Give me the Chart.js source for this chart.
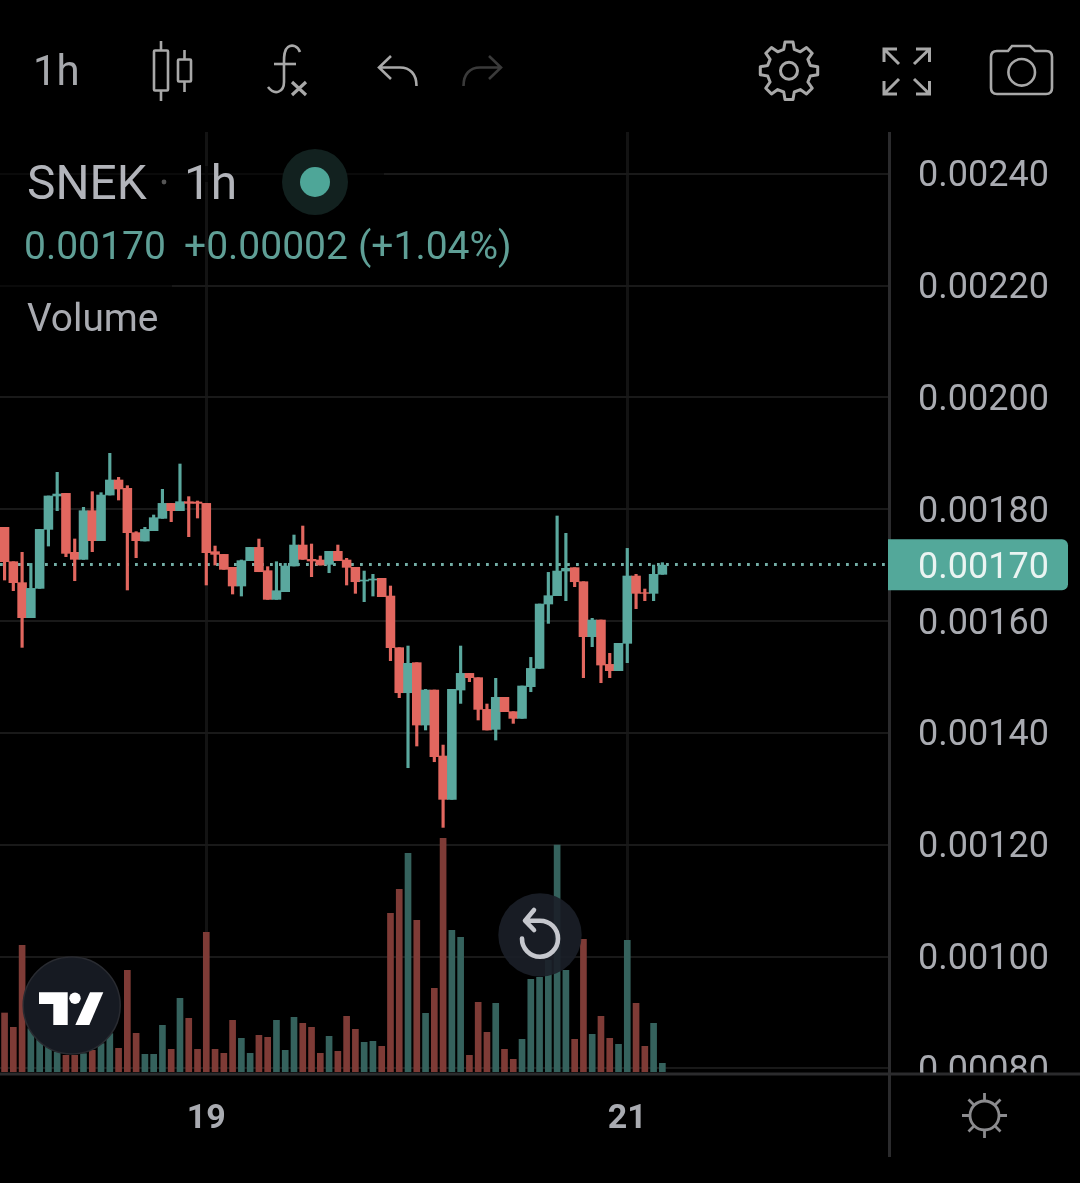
<!DOCTYPE html>
<html>
<head>
<meta charset="utf-8">
<style>
html,body{margin:0;padding:0;background:#000;width:1080px;height:1183px;overflow:hidden}
#c{position:absolute;left:0;top:0;width:1080px;height:1183px}
#o{position:absolute;left:0;top:0;pointer-events:none}
text{font-family:Roboto,sans-serif}
</style>
<script src="https://cdn.jsdelivr.net/npm/chart.js@4"></script>
</head>
<body>
<canvas id="c" width="1080" height="1183"></canvas>
<svg id="o" width="1080" height="1183" viewBox="0 0 1080 1183" xmlns="http://www.w3.org/2000/svg">
  <!-- toolbar -->
  <text x="33" y="85" font-size="42" fill="#a6a8ac">1h</text>
  <g fill="none" stroke="#a8a8a8" stroke-width="2.6">
    <rect x="154" y="50.5" width="14" height="40" rx="1"/>
    <path d="M161 41v9.5M161 90.5V101"/>
    <rect x="178" y="59.5" width="13" height="22" rx="1"/>
    <path d="M184.5 50v9.5M184.5 81.5V92"/>
    <path d="M300 52C298 46 292 44 288 47C284 50 284 56 284 62V82C284 92 275 96 268 87"/>
    <path d="M274 64H296"/>
    <path d="M292 82L306 95M306 82L292 95" stroke-width="3.2"/>
    <path d="M391 56L379 67.5L391 79M379 67.5H400C410 67.5 416.5 74 416.5 86"/>
    <path d="M489 56L501 67.5L489 79M501 67.5H480C470 67.5 463.5 74 463.5 86" stroke="#3a3a3a"/>
    <path id="gear" stroke-width="3" stroke-linejoin="round"/>
    <circle cx="789" cy="70.7" r="8.5" stroke-width="3"/>
    <g stroke-width="3">
      <path d="M897 49H884V62M884 49L899 64"/>
      <path d="M916 49H929.5V62M929.5 49L914 64"/>
      <path d="M884 81V94H897M884 94L899 79"/>
      <path d="M929.5 81V94H916M929.5 94L914 79"/>
    </g>
    <path d="M997 51H1008L1012 46H1030L1035 51H1046Q1052 51 1052 57V88Q1052 94 1046 94H997Q991 94 991 88V57Q991 51 997 51Z"/>
    <circle cx="1021.7" cy="72.3" r="13.3"/>
  </g>
  <!-- legend -->
  <rect x="0" y="166" width="384" height="16" fill="#000" fill-opacity="0.6"/>
  <rect x="0" y="278" width="172" height="16" fill="#000" fill-opacity="0.6"/>
  <text x="27" y="198.5" font-size="47.8" fill="#b2b4ba">SNEK</text>
  <circle cx="164" cy="182" r="2.4" fill="#555"/>
  <text x="184" y="198.5" font-size="47.8" fill="#b2b4ba">1h</text>
  <circle cx="315" cy="182" r="33" fill="#12211f"/>
  <circle cx="315" cy="182" r="15" fill="#4ea698"/>
  <text x="24" y="259" font-size="39" fill="#5f9f96">0.00170</text>
  <text x="184" y="259" font-size="39" fill="#5f9f96">+0.00002</text>
  <text x="358" y="259" font-size="39" fill="#5f9f96">(+1.04%)</text>
  <text x="27" y="331" font-size="38.8" fill="#a9abb1">Volume</text>
  <!-- tradingview badge -->
  <circle cx="71.7" cy="1005.5" r="48.5" fill="#161a22" stroke="#292b31" stroke-width="1.5"/>
  <path d="M39 992.3H67.7V1025H53.3V1004H39Z" fill="#fff"/>
  <circle cx="75" cy="998.3" r="5.7" fill="#fff"/>
  <path d="M90 992.3H103.3L89.3 1025H75.3Z" fill="#fff"/>
  <!-- reset button -->
  <circle cx="540" cy="935" r="41.7" fill="#1b1f28" fill-opacity="0.9"/>
  <path d="M534 910L525 920.7L534 930M526 920.7H540A18 18 0 1 1 522 938.5" fill="none" stroke="#c5c7cd" stroke-width="4.6" stroke-linecap="round" stroke-linejoin="round"/>
  <!-- theme icon -->
  <g fill="none" stroke="#8b8b8e" stroke-width="2.8">
    <circle cx="984.5" cy="1115.5" r="14.5"/>
    <path d="M984.5 1093V1101M984.5 1130V1138M962 1115.5H970M999 1115.5H1007M968.5 1099.5L974 1105M995 1126L1000.5 1131.5M1000.5 1099.5L995 1105M974 1126L968.5 1131.5"/>
  </g>
</svg>
<script>
const categories = Array.from({length:76},(_,i)=>i);
const opens = [
0.0017676,0.0017062,0.0016687,0.0016061,0.0016585,0.0017640,0.0018237,0.0018284,0.0017229,0.0017104,
0.0017974,0.0017438,0.0018254,0.0018523,0.0018374,0.0017581,0.0017432,0.0017617,0.0017837,0.0018105,
0.0017974,0.0018135,0.0018129,0.0018105,0.0017241,0.0017193,0.0016961,0.0016627,0.0017080,0.0017318,
0.0016901,0.0016388,0.0016526,0.0016985,0.0017360,0.0017104,0.0017092,0.0017014,0.0017247,0.0017092,
0.0016961,0.0016716,0.0016734,0.0016764,0.0016448,0.0015524,0.0014719,0.0015256,0.0014141,0.0014767,
0.0013587,0.0012812,0.0014767,0.0015065,0.0014988,0.0014421,0.0014064,0.0014636,0.0014380,0.0014260,
0.0014827,0.0015154,0.0016305,0.0016454,0.0016895,0.0016955,0.0016704,0.0015721,0.0016019,0.0015226,
0.0015113,0.0015602,0.0016806,0.0016508,0.0016496,0.0016836];
const highs = [
0.0017676,0.0017062,0.0017229,0.0017032,0.0017640,0.0018237,0.0018660,0.0018284,0.0017468,0.0018034,
0.0018314,0.0018296,0.0019000,0.0018570,0.0018421,0.0017599,0.0017676,0.0017897,0.0018356,0.0018105,
0.0018809,0.0018225,0.0018147,0.0018105,0.0017342,0.0017193,0.0016961,0.0017092,0.0017318,0.0017467,
0.0016973,0.0017062,0.0017032,0.0017539,0.0017700,0.0017378,0.0017163,0.0017247,0.0017360,0.0017122,
0.0016961,0.0016895,0.0016836,0.0016764,0.0016627,0.0015524,0.0015554,0.0015256,0.0014779,0.0014767,
0.0013783,0.0014779,0.0015554,0.0015065,0.0014988,0.0014517,0.0014976,0.0014636,0.0014380,0.0014839,
0.0015351,0.0016305,0.0016871,0.0017879,0.0017569,0.0016955,0.0016704,0.0016049,0.0016019,0.0015423,
0.0015602,0.0017300,0.0016836,0.0016573,0.0017002,0.0017044];
const lows = [
0.0016734,0.0016544,0.0015530,0.0016061,0.0016585,0.0017342,0.0017974,0.0017152,0.0016722,0.0017104,
0.0017241,0.0017438,0.0018254,0.0018165,0.0016556,0.0017134,0.0017432,0.0017617,0.0017837,0.0017778,
0.0017974,0.0017509,0.0017843,0.0016645,0.0017002,0.0016925,0.0016484,0.0016448,0.0017080,0.0016883,
0.0016388,0.0016388,0.0016526,0.0016985,0.0017104,0.0016794,0.0017002,0.0016865,0.0017080,0.0016645,
0.0016496,0.0016347,0.0016448,0.0016436,0.0015292,0.0014630,0.0013378,0.0013766,0.0014052,0.0013485,
0.0012311,0.0012812,0.0014528,0.0014916,0.0014231,0.0014052,0.0013873,0.0014380,0.0014171,0.0014260,
0.0014737,0.0015154,0.0015959,0.0016454,0.0016365,0.0016615,0.0014988,0.0015542,0.0014898,0.0014988,
0.0015113,0.0015256,0.0016222,0.0016365,0.0016365,0.0016836];
const closes = [
0.0017062,0.0016687,0.0016061,0.0016585,0.0017640,0.0018237,0.0018272,0.0017211,0.0017104,0.0017974,
0.0017438,0.0018254,0.0018523,0.0018362,0.0017581,0.0017438,0.0017640,0.0017849,0.0018105,0.0017974,
0.0018135,0.0018105,0.0018105,0.0017223,0.0017193,0.0016925,0.0016627,0.0017080,0.0017318,0.0016883,
0.0016388,0.0016543,0.0016985,0.0017360,0.0017104,0.0017074,0.0017002,0.0017247,0.0017080,0.0016961,
0.0016704,0.0016734,0.0016752,0.0016436,0.0015524,0.0014719,0.0015244,0.0014141,0.0014767,0.0013575,
0.0012812,0.0014779,0.0015065,0.0014988,0.0014421,0.0014052,0.0014636,0.0014380,0.0014260,0.0014839,
0.0015154,0.0016305,0.0016454,0.0016895,0.0016943,0.0016704,0.0015721,0.0016019,0.0015214,0.0015113,
0.0015602,0.0016806,0.0016496,0.0016496,0.0016836,0.0017000];
const volumes = [
177,134,380,130,100,75,60,50,50,55,
65,85,115,71,305,116,53,53,140,68,
221,161,68,419,68,56,155,101,56,110,
104,155,65,164,146,134,56,107,62,167,
128,89,92,77,476,548,656,455,176,251,
701,425,404,50,209,119,206,68,38,98,
278,284,335,681,305,98,398,113,167,101,
83,395,206,77,146,26];
const priceTicks = [0.0008,0.0010,0.0012,0.0014,0.0016,0.0018,0.0020,0.0022,0.0024];
const timeTickIndex = [23,71];
const timeTickLabels = ['19','21'];
const lastPrice = 0.0017;

const UP='#5aa89e', DOWN='#e2675f', VUP='#35625d', VDOWN='#7e3b36', TAG='#53a89a';
const isUp = categories.map(i=>closes[i]>=opens[i]);
const candleColors = isUp.map(u=>u?UP:DOWN);
const volColors = isUp.map(u=>u?VUP:VDOWN);

const overlay = {
  id:'overlay',
  beforeDatasetsDraw(ch){
    const g=ch.ctx, y=Math.round(ch.scales.y.getPixelForValue(lastPrice))-0.5;
    g.save();
    g.strokeStyle='#74aea6'; g.lineWidth=2.8; g.setLineDash([2.8,6.2]);
    g.beginPath(); g.moveTo(0,y); g.lineTo(888,y); g.stroke();
    g.restore();
  },
  afterDraw(ch){
    const g=ch.ctx, y=ch.scales.y.getPixelForValue(lastPrice);
    g.save();
    // cover of the clipped lowest label, below the pane
    g.fillStyle='#000'; g.fillRect(891,1073,189,30);
    g.fillStyle='#2b2b2d';
    g.fillRect(0,1072.5,1080,3);
    g.fillRect(888,132,3,1025);
    // last price tag
    g.fillStyle=TAG;
    g.beginPath(); g.roundRect(888,y-26,180,51,[0,6,6,0]); g.fill();
    g.fillStyle='#eaf4f2'; g.font='36px Roboto'; g.textBaseline='middle'; g.textAlign='left';
    g.fillText(lastPrice.toFixed(5),918,y+4);
    g.restore();
  }
};

new Chart(document.getElementById('c'),{
  plugins:[overlay],
  data:{datasets:[
    {type:'bar',label:'Volume',yAxisID:'v',order:3,grouped:false,barThickness:6,
     data:categories.map(i=>({x:i,y:volumes[i]})),backgroundColor:volColors,borderWidth:0},
    {type:'bar',label:'Wick',yAxisID:'y',order:2,grouped:false,barThickness:2.5,
     data:categories.map(i=>({x:i,y:[lows[i],highs[i]]})),backgroundColor:candleColors,borderWidth:0,borderSkipped:false},
    {type:'bar',label:'Body',yAxisID:'y',order:1,grouped:false,barThickness:8.9,
     data:categories.map(i=>({x:i,y:[opens[i],closes[i]]})),backgroundColor:candleColors,borderWidth:0,borderSkipped:false}
  ]},
  options:{
    responsive:false,animation:false,devicePixelRatio:1,
    layout:{padding:{top:132,left:0,right:0,bottom:0}},
    plugins:{legend:{display:false},tooltip:{enabled:false},title:{display:false}},
    scales:{
      x:{type:'linear',min:-0.52,max:100.84,offset:false,
         afterBuildTicks(s){s.ticks=timeTickIndex.map(value=>({value}));},
         afterFit(s){s.height=111;},
         grid:{color:'#131313',lineWidth:3,drawTicks:false,offset:false},
         border:{display:false},
         ticks:{autoSkip:false,maxRotation:0,padding:27,color:'#a9abb1',
                font:{family:'Roboto',size:34,weight:'700'},
                callback:v=>timeTickLabels[timeTickIndex.indexOf(v)]}},
      y:{position:'right',min:0.00079364,max:0.00247460,
         afterBuildTicks(s){s.ticks=priceTicks.map(value=>({value}));},
         afterFit(s){s.width=191;},
         grid:{color:'#191919',lineWidth:2,drawTicks:false},
         border:{display:false},
         ticks:{autoSkip:false,padding:29,color:'#a9abb1',crossAlign:'near',align:'center',labelOffset:3.5,
                font:{family:'Roboto',size:36},
                callback:v=>v.toFixed(5)}},
      v:{display:false,min:0,max:2820}
    }
  }
});

// settings gear outline
(function(){
  const cx=789,cy=70.7,pts=[];
  for(let k=0;k<8;k++){
    const a=-Math.PI/2+k*Math.PI/4,d=Math.PI/180;
    [[22,-14],[29,-8],[29,8],[22,14]].forEach(([r,o])=>{
      pts.push((cx+r*Math.cos(a+o*d)).toFixed(1)+' '+(cy+r*Math.sin(a+o*d)).toFixed(1));
    });
  }
  document.getElementById('gear').setAttribute('d','M'+pts.join('L')+'Z');
})();
</script>
</body>
</html>
